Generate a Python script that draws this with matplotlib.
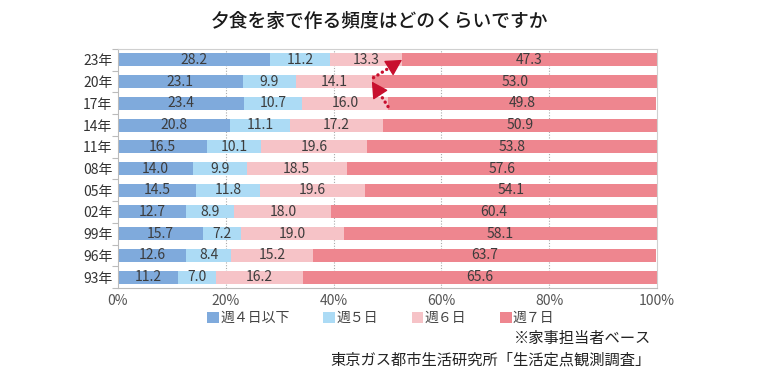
import matplotlib
matplotlib.use("Agg")
import matplotlib.pyplot as plt
from matplotlib.patches import Patch
import numpy as np

plt.rcParams['font.family'] = ['Noto Sans CJK JP', 'DejaVu Sans']

years = ['93年', '96年', '99年', '02年', '05年', '08年', '11年', '14年', '17年', '20年', '23年']
week4_or_less = [11.2, 12.6, 15.7, 12.7, 14.5, 14.0, 16.5, 20.8, 23.4, 23.1, 28.2]
week5 = [7.0, 8.4, 7.2, 8.9, 11.8, 9.9, 10.1, 11.1, 10.7, 9.9, 11.2]
week6 = [16.2, 15.2, 19.0, 18.0, 19.6, 18.5, 19.6, 17.2, 16.0, 14.1, 13.3]
week7 = [65.6, 63.7, 58.1, 60.4, 54.1, 57.6, 53.8, 50.9, 49.8, 53.0, 47.3]

series_names = ['週４日以下', '週５日', '週６日', '週７日']
colors = ['#7faadc', '#acdbf5', '#f6c3c7', '#ee868f']
xticks = [0, 20, 40, 60, 80, 100]
xticklabels = ['0%', '20%', '40%', '60%', '80%', '100%']

fig = plt.figure(figsize=(7.58, 3.85), dpi=100)
ax = fig.add_axes([118/758, 1 - 288/385, (657-118)/758, (288-49)/385])

y = np.arange(len(years))
data = [week4_or_less, week5, week6, week7]
left = np.zeros(len(years))
for vals, col in zip(data, colors):
    vals = np.array(vals)
    ax.barh(y, vals, left=left, height=0.6, color=col, zorder=2)
    for yi, l, v in zip(y, left, vals):
        ax.text(l + v / 2, yi, f'{v:.1f}', ha='center', va='center',
                fontsize=10, color='#3c3c3c', zorder=4)
    left = left + vals

ax.set_xlim(0, 100)
ax.set_ylim(-0.37, 10.5)
ax.set_xticks(xticks)
ax.set_xticklabels(xticklabels, fontsize=10, color='#555555')
ax.set_yticks(y)
ax.set_yticklabels(years, fontsize=10, color='#333333')
ax.set_yticks(np.arange(-0.5, len(years), 1.0), minor=True)
ax.tick_params(axis='y', which='major', length=0, pad=4)
ax.tick_params(axis='y', which='minor', length=4, color='#bbbbbb', width=0.8)
ax.tick_params(axis='x', length=0, pad=4)

for xv in [20, 40, 60, 80]:
    ax.axvline(xv, color='#aaaaaa', linestyle=(0, (1, 1.5)), linewidth=0.8, zorder=1)

for side in ['top', 'right']:
    ax.spines[side].set_color('#d0d0d0')
    ax.spines[side].set_linewidth(0.8)
for side in ['left', 'bottom']:
    ax.spines[side].set_color('#bbbbbb')
    ax.spines[side].set_linewidth(0.8)

# dotted arrows between year boundaries of the 7-day segment
cum6 = np.array(week4_or_less) + np.array(week5) + np.array(week6)
i17, i20, i23 = years.index('17年'), years.index('20年'), years.index('23年')
arrow_col = '#c8102e'


def dotted_arrow(start, tip):
    start = np.array(start, dtype=float)
    tip = np.array(tip, dtype=float)
    vec = tip - start
    ax.plot([start[0], tip[0] - 0.3 * vec[0]], [start[1], tip[1] - 0.3 * vec[1]],
            color=arrow_col, lw=2.4, linestyle=(0, (0.05, 1.5)),
            solid_capstyle='round', dash_capstyle='round', zorder=5)
    hs = tip - 0.4 * vec
    ax.annotate('', xy=tuple(tip), xytext=tuple(hs),
                arrowprops=dict(arrowstyle='-|>,head_length=1.0,head_width=0.55',
                                color=arrow_col, lw=1.0, shrinkA=0, shrinkB=0),
                zorder=6)


dotted_arrow((cum6[i17], i17 - 0.15), (cum6[i20], i20))
dotted_arrow((cum6[i20] + 0.3, i20 + 0.18), (cum6[i23], i23))

fig.text(380/758, 1 - 21/385, '夕食を家で作る頻度はどのくらいですか',
         ha='center', va='center', fontsize=13.5, color='#1a1a1a', fontweight='medium')

handles = [Patch(facecolor=c, edgecolor='none') for c in colors]
fig.legend(handles, series_names, loc='center', bbox_to_anchor=(381/758, 1 - 318/385),
           ncol=4, frameon=False, fontsize=10, handlelength=0.85, handleheight=0.85,
           handletextpad=0.1, columnspacing=2.4, labelcolor='#444444')

fig.text(651/758, 1 - 338/385, '※家事担当者ベース', ha='right', va='center',
         fontsize=11, color='#222222')
fig.text(651/758, 1 - 360/385, '東京ガス都市生活研究所「生活定点観測調査」', ha='right', va='center',
         fontsize=11, color='#222222')

fig.savefig('out.png', dpi=100)
